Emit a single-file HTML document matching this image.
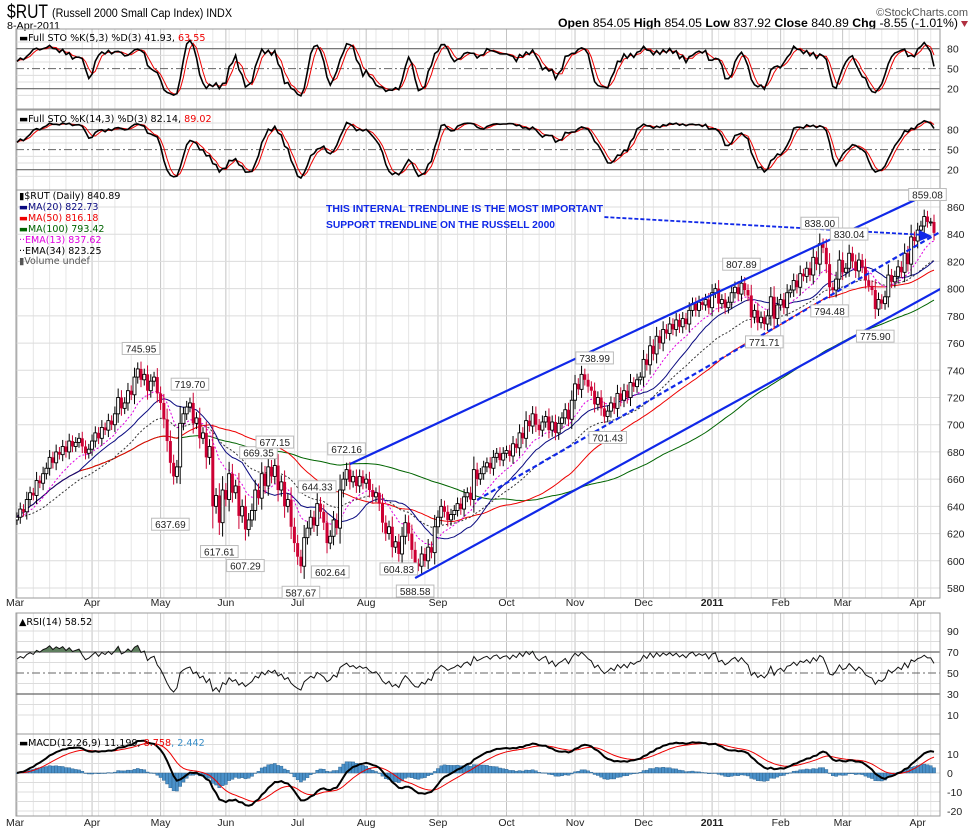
<!DOCTYPE html>
<html><head><meta charset="utf-8"><style>
body{margin:0;background:#fff}
svg{display:block;font-family:"Liberation Sans",sans-serif}
</style></head><body>
<svg id="chart" width="975" height="832" viewBox="0 0 975 832" xmlns="http://www.w3.org/2000/svg">
<defs>
<clipPath id="cSto1"><rect x="16" y="29" width="924" height="80"/></clipPath>
<clipPath id="cSto2"><rect x="16" y="110" width="924" height="80"/></clipPath>
<clipPath id="cMain"><rect x="16" y="190" width="924" height="408"/></clipPath>
<clipPath id="cRsi"><rect x="16" y="613" width="924" height="121"/></clipPath>
<clipPath id="cMacd"><rect x="16" y="734" width="924" height="82"/></clipPath>
</defs>
<g id="header">
<text x="7" y="18" font-size="19" textLength="41" lengthAdjust="spacingAndGlyphs">$RUT</text>
<text x="52" y="17" font-size="11.5" textLength="180" lengthAdjust="spacingAndGlyphs">(Russell 2000 Small Cap Index)  INDX</text>
<text x="7" y="29" font-size="10.5" textLength="53" lengthAdjust="spacingAndGlyphs">8-Apr-2011</text>
<text x="968" y="16" text-anchor="end" font-size="11" fill="#555">©StockCharts.com</text>
<text x="958" y="27" text-anchor="end" font-size="11.5" textLength="400" lengthAdjust="spacingAndGlyphs"><tspan font-weight="bold">Open</tspan> 854.05 <tspan font-weight="bold">High</tspan> 854.05 <tspan font-weight="bold">Low</tspan> 837.92 <tspan font-weight="bold">Close</tspan> 840.89 <tspan font-weight="bold">Chg</tspan> -8.55 (-1.01%)</text>
<path d="M961 21 L968 21 L964.5 27 Z" fill="#b03040"/>
</g>
<g id="layer"></g>
</svg>
<script>
// ---------- data ----------
const closes = [
632,638,636,645,650,648,659,657,664,668,
676,672,680,678,684,680,688,684,687,690,
684,679,682,688,694,690,698,696,703,700,
708,720,712,716,725,722,735,741,733,737,
725,732,735,723,716,704,688,672,662,669,
701,708,713,716,701,705,690,694,676,684,
640,648,628,652,645,664,650,655,633,640,
623,630,637,652,646,664,655,669,662,670,
652,658,640,645,625,613,603,596,617,624,
632,626,642,636,628,613,618,630,624,652,
660,667,658,662,655,662,657,660,652,647,
650,642,628,620,625,610,614,605,618,628,
620,608,598,596,605,600,610,606,625,632,
640,636,630,634,637,642,638,647,650,645,
667,660,664,669,672,668,676,679,674,679,
681,677,686,683,694,690,703,699,708,700,
696,702,706,696,702,694,701,705,711,704,
718,730,726,737,733,728,725,715,720,712,
706,710,716,712,723,718,725,720,731,728,
733,735,748,744,758,752,765,760,770,767,
774,770,777,772,778,774,784,789,784,790,
788,792,786,797,800,789,792,786,790,797,
801,796,804,799,795,779,784,775,779,774,
780,794,778,788,792,786,797,799,806,801,
811,809,815,810,823,818,833,830,818,801,
799,807,821,812,815,826,820,813,821,816,
806,802,799,785,792,789,794,810,805,809,
816,812,826,818,838,835,843,846,853,849,
849,841];
const monthLabels = ["Mar","Apr","May","Jun","Jul","Aug","Sep","Oct","Nov","Dec","2011","Feb","Mar","Apr"];
const monthStarts = [0,23,44,64,86,107,129,150,171,192,213,234,253,276];
const priceTicks = [580,600,620,640,660,680,700,720,740,760,780,800,820,840,860];
const stoTicks = [20,50,80];
const rsiTicks = [10,30,50,70,90];
const macdTicks = [-20,-10,0,10];
const peakIdx = [38,53,74,79,92,101,177,222,246,255,279];
const peakVals = [745.95,719.70,669.35,677.15,644.33,672.16,738.99,807.89,838.00,830.04,859.08];
const troughIdx = [47,62,70,87,96,117,122,181,229,249,263];
const troughVals = [637.69,617.61,607.29,587.67,602.64,604.83,588.58,701.43,771.71,794.48,775.90];
// trendlines: [idx0, price0, idx1, price1]
const upperChannel = [102,671,293.5,885.7];
const lowerChannel = [122,587.3,293.5,813.7];
const internalTrend = [141,644.7,285,844.6];
const pointerLine = [180,852.6,278.5,839.4];

// ---------- scales ----------
const N = closes.length;
const X0 = 17, X1 = 934, PL = 16, PR = 940;
const step = (X1 - X0) / (N - 1);
const X = i => X0 + i * step;
const Y = p => 207 + (860 - p) * 1.3607;
const Ys1 = v => 102 - v * 0.6667;
const Ys2 = v => 183 - v * 0.6667;
const Yr = v => 725.5 - v * 1.05;
const Ym = v => 773 - v * 1.9;

const NS = "http://www.w3.org/2000/svg";
const layer = document.getElementById("layer");
function mk(tag, attrs, parent) {
  const el = document.createElementNS(NS, tag);
  for (const k in attrs) el.setAttribute(k, attrs[k]);
  (parent || layer).appendChild(el);
  return el;
}
function grp(name, clip) {
  const g = mk("g", clip ? {"clip-path": "url(#" + clip + ")"} : {});
  
  
  return g;
}

// ---------- indicators ----------
const opens = closes.map((c, i) => i ? closes[i - 1] : c - 2);
const highs = closes.map((c, i) => Math.max(c, opens[i]) + 3 + Math.abs(c - opens[i]) * 0.3);
const lows = closes.map((c, i) => Math.min(c, opens[i]) - 3 - Math.abs(c - opens[i]) * 0.3);
function sma(a, n) { return a.map((v, i) => { const s = a.slice(Math.max(0, i - n + 1), i + 1); return s.reduce((x, y) => x + y, 0) / s.length; }); }
function ema(a, n) { const k = 2 / (n + 1); let e = a[0]; return a.map(v => (e = v * k + e * (1 - k))); }
function fullSto(k) {
  const raw = closes.map((c, i) => {
    const hh = Math.max(...highs.slice(Math.max(0, i - k + 1), i + 1));
    const ll = Math.min(...lows.slice(Math.max(0, i - k + 1), i + 1));
    return hh === ll ? 50 : (c - ll) / (hh - ll) * 100;
  });
  const K = sma(raw, 3); return [K, sma(K, 3)];
}
const ma20 = sma(closes, 20), ma50 = sma(closes, 50), ma100 = sma(closes, 100);
const ema13 = ema(closes, 13), ema34 = ema(closes, 34);
const sto1 = fullSto(5), sto2 = fullSto(14);
const rsi = (() => { let ag = 4.5, al = 2.6; return closes.map((c, i) => {
  if (i) { const d = c - closes[i - 1]; ag = (ag * 13 + Math.max(d, 0)) / 14; al = (al * 13 + Math.max(-d, 0)) / 14; }
  return 100 - 100 / (1 + ag / al); }); })();
const e12 = ema(closes, 12), e26 = ema(closes, 26);
const macd = closes.map((c, i) => e12[i] - e26[i]);
const signal = ema(macd, 9);
const hist = macd.map((m, i) => m - signal[i]);

function line(g, arr, yf, color, w, dash, name) {
  const d = arr.map((v, i) => (i ? "L" : "M") + X(i).toFixed(1) + " " + yf(v).toFixed(1)).join("");
  const p = mk("path", {d: d, fill: "none", stroke: color, "stroke-width": w, "stroke-dasharray": dash || "none"}, g);
  
  
  return p;
}

// ---------- panel frames & grids ----------
const panels = [
  {name: "sto-fast-panel", top: 29, bot: 109, yf: Ys1, grid: [10,30,40,60,70,90], ticks: stoTicks, solid: [20,80], dash: [50]},
  {name: "sto-slow-panel", top: 110, bot: 190, yf: Ys2, grid: [10,30,40,60,70,90], ticks: stoTicks, solid: [20,80], dash: [50]},
  {name: "price-panel", top: 190, bot: 598, yf: Y, grid: priceTicks, ticks: priceTicks, solid: [], dash: []},
  {name: "rsi-panel", top: 613, bot: 734, yf: Yr, grid: [10,20,40,60,80,90], ticks: rsiTicks, solid: [30,70], dash: [50]},
  {name: "macd-panel", top: 734, bot: 816, yf: Ym, grid: [-20,-15,-10,-5,0,5,10,15], ticks: macdTicks, solid: [], dash: []}
];
panels.forEach(p => {
  const g = grp(p.name + "-grid");
  for (let i = 0; i < N; i += 5) {
    mk("line", {x1: X(i), x2: X(i), y1: p.top, y2: p.bot, stroke: "#e6e6e6", "stroke-width": 1}, g);
  }
  monthStarts.forEach(m => { mk("line", {x1: X(m), x2: X(m), y1: p.top, y2: p.bot, stroke: "#c4c4c4", "stroke-width": 1}, g); });
  p.grid.forEach(v => { mk("line", {x1: PL, x2: PR, y1: p.yf(v), y2: p.yf(v), stroke: "#dcdcdc", "stroke-width": 1}, g); });
  p.solid.forEach(v => { mk("line", {x1: PL, x2: PR, y1: p.yf(v), y2: p.yf(v), stroke: "#666", "stroke-width": 1.2}, g); });
  p.dash.forEach(v => { mk("line", {x1: PL, x2: PR, y1: p.yf(v), y2: p.yf(v), stroke: "#666", "stroke-width": 1, "stroke-dasharray": "8 3 2 3"}, g); });
  const f = mk("rect", {x: PL, y: p.top, width: PR - PL, height: p.bot - p.top, fill: "none", stroke: "#999", "stroke-width": 1}, g);
  
  
  const tg = grp(p.name + "-y-axis");
  p.ticks.forEach(v => {
    const t = mk("text", {x: 947, y: p.yf(v) + 4, "font-size": 10.5, fill: "#222"}, tg);
    t.textContent = v;
  });
});

// ---------- date axes ----------
[606, 826].forEach((yy, k) => {
  const g = grp(k ? "date-axis-bottom" : "date-axis-middle");
  monthLabels.forEach((m, j) => {
    const t = mk("text", {x: j ? X(monthStarts[j]) : 6, y: yy, "font-size": 10.5, "text-anchor": j ? "middle" : "start", "font-weight": m === "2011" ? "bold" : "normal", fill: "#222"}, g);
    
    
    t.textContent = m;
  });
});

// ---------- STO panels ----------
const gs1 = grp("sto-fast-lines", "cSto1");
line(gs1, sto1[1], Ys1, "#e00", 1, null, "sto-fast-d-line");
line(gs1, sto1[0], Ys1, "#000", 1.6, null, "sto-fast-k-line");
const gs2 = grp("sto-slow-lines", "cSto2");
line(gs2, sto2[1], Ys2, "#e00", 1, null, "sto-slow-d-line");
line(gs2, sto2[0], Ys2, "#000", 1.6, null, "sto-slow-k-line");

// ---------- main price ----------
const gm = grp("price-series", "cMain");
line(gm, ma100, Y, "#006400", 1, null, "ma100-line");
line(gm, ma50, Y, "#e00", 1, null, "ma50-line");
line(gm, ema34, Y, "#333", 1, "2 2", "ema34-line");
line(gm, ma20, Y, "#0a0a80", 1, null, "ma20-line");
line(gm, ema13, Y, "#e000e0", 1, "2 2", "ema13-line");
const gc = grp("candles", "cMain");
closes.forEach((c, i) => {
  const o = opens[i], x = X(i), down = c < o;
  const col = down ? "#cc0033" : "#000";
  const w = mk("line", {x1: x, x2: x, y1: Y(highs[i]), y2: Y(lows[i]), stroke: col, "stroke-width": 1}, gc);
  
  
  const top = Y(Math.max(o, c)), h = Math.max(1, Math.abs(Y(o) - Y(c)));
  const b = mk("rect", {x: x - 1.5, y: top, width: 3, height: h, fill: down ? "#cc0033" : "#fff", stroke: col, "stroke-width": down ? 0 : 0.9}, gc);
  
  
});

// trendlines
const gt = grp("trendlines", "cMain");
function tl(a, w, dash, name) {
  const l = mk("line", {x1: X(a[0]), y1: Y(a[1]), x2: X(a[2]), y2: Y(a[3]), stroke: "#1028e8", "stroke-width": w, "stroke-dasharray": dash || "none"}, gt);
  
  
}
tl(upperChannel, 2.2, null, "upper-channel-line");
tl(lowerChannel, 2.2, null, "lower-channel-line");
tl(internalTrend, 2.2, "5 3", "internal-trendline");
tl(pointerLine, 1.8, "4 2", "pointer-line");
const ax = X(pointerLine[2]), ay = Y(pointerLine[3]);
const ah = mk("path", {d: `M${ax+6} ${ay+1} L${ax-7} ${ay-5} L${ax-6} ${ay+6} Z`, fill: "#1028e8"}, gt);



// price labels
const gl = grp("price-labels");
function plabel(i, v, above) {
  const txt = v.toFixed(2), x = X(i), w = txt.length * 5.6 + 4;
  const y = above ? Y(v + 2) - 17 : Y(v - 2) + 6;
  const r = mk("rect", {x: x - w / 2, y: y, width: w, height: 12, fill: "#fff", stroke: "#bbb", "stroke-width": 1}, gl);
  
  
  const t = mk("text", {x: x, y: y + 10, "font-size": 10, "text-anchor": "middle", fill: "#222"}, gl);
  
  
  t.textContent = txt;
}
peakIdx.forEach((i, k) => plabel(i, peakVals[k], true));
troughIdx.forEach((i, k) => plabel(i, troughVals[k], false));

// ---------- RSI ----------
const gr = grp("rsi-series", "cRsi");
const fillD = "M" + X(0) + " " + Yr(70) + rsi.map((v, i) => "L" + X(i).toFixed(1) + " " + Yr(Math.max(v, 70)).toFixed(1)).join("") + "L" + X(N - 1) + " " + Yr(70) + "Z";
const rf = mk("path", {d: fillD, fill: "#5f7f5f"}, gr);


line(gr, rsi, Yr, "#111", 1, null, "rsi-line");

// ---------- MACD ----------
const gh = grp("macd-series", "cMacd");
hist.forEach((h, i) => {
  const r = mk("rect", {x: X(i) - 1.6, y: Math.min(Ym(h), Ym(0)), width: 3.2, height: Math.max(0.5, Math.abs(Ym(h) - Ym(0))), fill: "#4a90c8", stroke: "#2a5f8a", "stroke-width": 0.4}, gh);
  
  
});
line(gh, signal, Ym, "#e00", 1, null, "macd-signal-line");
line(gh, macd, Ym, "#000", 2, null, "macd-line");

// ---------- legends ----------
function legend(x, y, parts, name, size) {
  const t = mk("text", {x: x, y: y, "font-size": size || 9.5, "font-family": "DejaVu Sans, sans-serif"});
  
  
  parts.forEach(p => { const s = mk("tspan", {fill: p[1]}, t); s.textContent = p[0]; });
}
legend(19, 41, [["▬Full STO %K(5,3) %D(3) 41.93, ", "#000"], ["63.55", "#e00"]], "sto-fast-legend", 9.6);
legend(19, 122, [["▬Full STO %K(14,3) %D(3) 82.14, ", "#000"], ["89.02", "#e00"]], "sto-slow-legend", 9.6);
legend(19, 199, [["▮$RUT (Daily) 840.89", "#000"]], "price-legend");
legend(19, 210, [["▬MA(20) 822.73", "#0a0a80"]], "ma20-legend");
legend(19, 221, [["▬MA(50) 816.18", "#e00"]], "ma50-legend");
legend(19, 232, [["▬MA(100) 793.42", "#006400"]], "ma100-legend");
legend(19, 243, [["··EMA(13) 837.62", "#e000e0"]], "ema13-legend");
legend(19, 254, [["··EMA(34) 823.25", "#000"]], "ema34-legend");
legend(19, 264, [["▮Volume undef", "#555"]], "volume-legend");
legend(19, 625, [["▲RSI(14) 58.52", "#000"]], "rsi-legend", 9.6);
legend(19, 746, [["▬MACD(12,26,9) 11.199, ", "#000"], ["8.758", "#e00"], [", 2.442", "#3a8fc8"]], "macd-legend", 9.6);
const n1 = mk("text", {x: 326, y: 212, "font-size": 10.5, "font-weight": "bold", fill: "#1028e8", textLength: 277, lengthAdjust: "spacingAndGlyphs"});


n1.textContent = "THIS INTERNAL TRENDLINE IS THE MOST IMPORTANT";
const n2 = mk("text", {x: 326, y: 228, "font-size": 10.5, "font-weight": "bold", fill: "#1028e8", textLength: 229, lengthAdjust: "spacingAndGlyphs"});


n2.textContent = "SUPPORT TRENDLINE ON THE RUSSELL 2000";
</script>
</body></html>
